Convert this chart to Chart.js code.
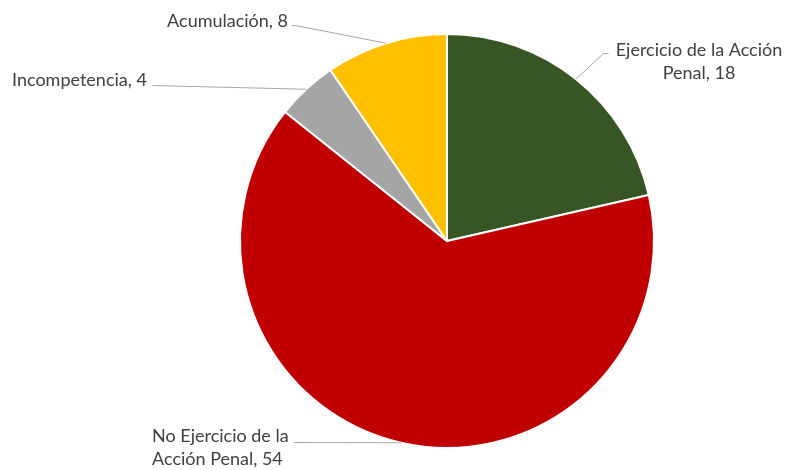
<!DOCTYPE html>
<html>
<head>
<meta charset="utf-8">
<script src="https://cdn.jsdelivr.net/npm/chart.js@4"></script>
<style>
html,body{margin:0;padding:0;background:#fff;}
#wrap{width:786px;height:470px;}
</style>
</head>
<body>
<div id="wrap"><canvas id="c" width="786" height="470"></canvas></div>
<script>
const categories = ["Ejercicio de la Acción Penal", "No Ejercicio de la Acción Penal", "Incompetencia", "Acumulación"];
const values = [18, 54, 4, 8];
const colors = ["#375623", "#C00000", "#A5A5A5", "#FFC000"];
// label text lines (as shown in the chart)
const labelLines = [
  ["Ejercicio de la Acción", "Penal, 18"],
  ["No Ejercicio de la", "Acción Penal, 54"],
  ["Incompetencia, 4"],
  ["Acumulación, 8"]
];

// label layout: position, alignment, leader elbow points
const labelLayout = [
  {x: 699, y: 50, align: "center", path: [[608, 53], [603, 53]]},
  {x: 152, y: 436, align: "left", path: [[293, 442]]},
  {x: 12, y: 80, align: "left", path: [[152, 85]]},
  {x: 288, y: 21, align: "right", path: [[291, 25], [295, 25]]}
];

const FONT = '400 18px Lato';
const LINE_H = 23;

const labelPlugin = {
  id: 'pieLabels',
  afterDatasetsDraw(chart) {
    const ctx = chart.ctx;
    const meta = chart.getDatasetMeta(0);
    ctx.save();
    meta.data.forEach((arc, i) => {
      const p = arc.getProps(['x', 'y', 'startAngle', 'endAngle', 'outerRadius'], true);
      const mid = (p.startAngle + p.endAngle) / 2;
      const ex = p.x + Math.cos(mid) * p.outerRadius;
      const ey = p.y + Math.sin(mid) * p.outerRadius;
      const L = labelLayout[i];
      ctx.strokeStyle = '#A6A6A6';
      ctx.lineWidth = 1;
      ctx.beginPath();
      ctx.moveTo(L.path[0][0] + 0.5, L.path[0][1] + 0.5);
      for (let k = 1; k < L.path.length; k++) ctx.lineTo(L.path[k][0] + 0.5, L.path[k][1] + 0.5);
      ctx.lineTo(ex, ey);
      ctx.stroke();
      ctx.fillStyle = '#404040';
      ctx.font = FONT;
      ctx.textAlign = L.align;
      ctx.textBaseline = 'middle';
      labelLines[i].forEach((t, j) => {
        ctx.fillText(t, L.x, L.y + j * LINE_H);
      });
    });
    ctx.restore();
  }
};

new Chart(document.getElementById('c'), {
  type: 'pie',
  data: {
    labels: categories,
    datasets: [{
      data: values,
      backgroundColor: colors,
      borderColor: '#FFFFFF',
      borderWidth: 2
    }]
  },
  options: {
    responsive: false,
    animation: false,
    radius: 207,
    layout: {padding: {left: 108, right: 0, top: 12, bottom: 0}},
    plugins: {
      legend: {display: false},
      tooltip: {enabled: false}
    }
  },
  plugins: [labelPlugin]
});
</script>
</body>
</html>
